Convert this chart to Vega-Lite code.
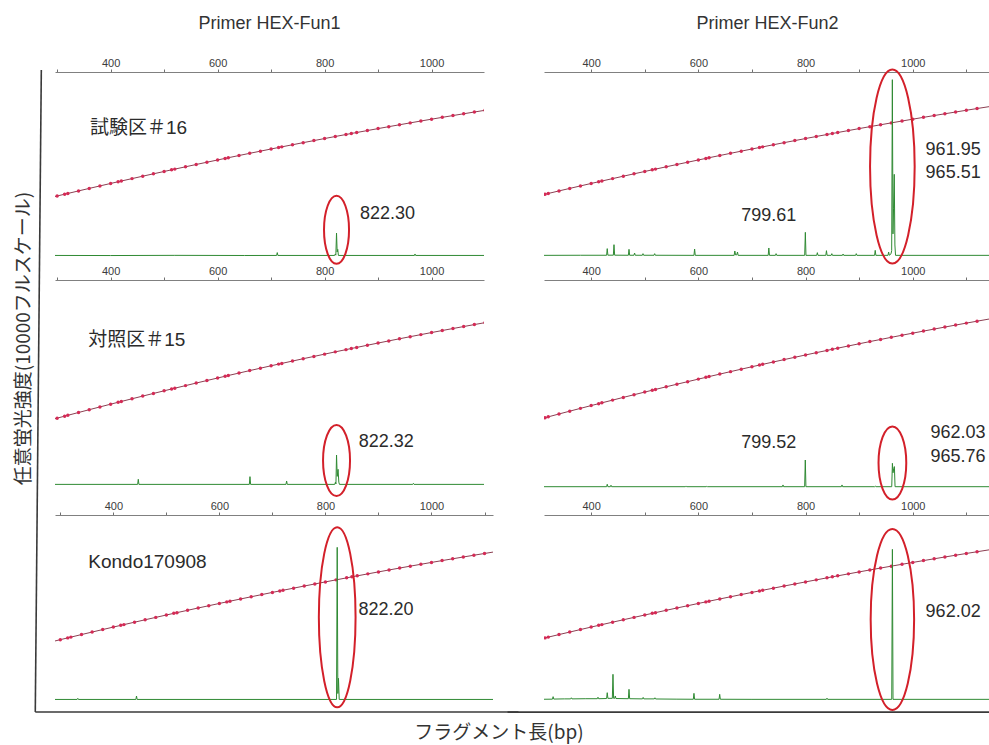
{
  "$schema": "https://vega.github.io/schema/vega-lite/v6.json",
  "background": "white",
  "padding": {"left": 14, "top": 15, "right": 0, "bottom": 1},
  "config": {
    "view": {"stroke": null},
    "font": "Liberation Sans",
    "axis": {"domainColor": "#808080", "domainWidth": 1, "tickColor": "#707070", "tickSize": 3, "labelFontSize": 11, "labelColor": "#3c3c3c", "labelPadding": 1, "grid": false, "labelFont": "Liberation Sans"}
  },
  "datasets": {
    "sizing": [
      {"bp": 280, "rfu": 3121}, {"bp": 300, "rfu": 3261}, {"bp": 314, "rfu": 3358}, {"bp": 320, "rfu": 3399}, {"bp": 340, "rfu": 3537},
      {"bp": 360, "rfu": 3673}, {"bp": 380, "rfu": 3808}, {"bp": 400, "rfu": 3942}, {"bp": 414, "rfu": 4035}, {"bp": 420, "rfu": 4075},
      {"bp": 440, "rfu": 4206}, {"bp": 460, "rfu": 4337}, {"bp": 480, "rfu": 4466}, {"bp": 500, "rfu": 4594}, {"bp": 514, "rfu": 4684},
      {"bp": 520, "rfu": 4722}, {"bp": 540, "rfu": 4848}, {"bp": 560, "rfu": 4973}, {"bp": 580, "rfu": 5096}, {"bp": 600, "rfu": 5219},
      {"bp": 614, "rfu": 5304}, {"bp": 620, "rfu": 5341}, {"bp": 640, "rfu": 5461}, {"bp": 660, "rfu": 5580}, {"bp": 680, "rfu": 5698},
      {"bp": 700, "rfu": 5816}, {"bp": 714, "rfu": 5897}, {"bp": 720, "rfu": 5931}, {"bp": 740, "rfu": 6046}, {"bp": 760, "rfu": 6160},
      {"bp": 780, "rfu": 6272}, {"bp": 800, "rfu": 6384}, {"bp": 820, "rfu": 6494}, {"bp": 840, "rfu": 6603}, {"bp": 850, "rfu": 6658},
      {"bp": 860, "rfu": 6711}, {"bp": 880, "rfu": 6818}, {"bp": 900, "rfu": 6924}, {"bp": 920, "rfu": 7029}, {"bp": 940, "rfu": 7132},
      {"bp": 960, "rfu": 7235}, {"bp": 980, "rfu": 7336}, {"bp": 1000, "rfu": 7436}, {"bp": 1020, "rfu": 7535}, {"bp": 1040, "rfu": 7633},
      {"bp": 1060, "rfu": 7730}, {"bp": 1080, "rfu": 7826}, {"bp": 1100, "rfu": 7920}, {"bp": 1120, "rfu": 8014}, {"bp": 1160, "rfu": 8197}
    ],
    "trace": [
      {"p": "A1", "bp": 296, "rfu": 30}, {"p": "A1", "bp": 400, "rfu": 25}, {"p": "A1", "bp": 520, "rfu": 35}, {"p": "A1", "bp": 650, "rfu": 28},
      {"p": "A1", "bp": 710.3, "rfu": 30}, {"p": "A1", "bp": 711.5, "rfu": 185}, {"p": "A1", "bp": 712.7, "rfu": 30},
      {"p": "A1", "bp": 818.8, "rfu": 30}, {"p": "A1", "bp": 820, "rfu": 110}, {"p": "A1", "bp": 821, "rfu": 45}, {"p": "A1", "bp": 822.3, "rfu": 1250},
      {"p": "A1", "bp": 823.5, "rfu": 220}, {"p": "A1", "bp": 824.6, "rfu": 360}, {"p": "A1", "bp": 825.8, "rfu": 30},
      {"p": "A1", "bp": 968, "rfu": 30}, {"p": "A1", "bp": 969, "rfu": 110}, {"p": "A1", "bp": 970.2, "rfu": 30}, {"p": "A1", "bp": 1098, "rfu": 30},

      {"p": "A2", "bp": 296, "rfu": 30}, {"p": "A2", "bp": 450.5, "rfu": 30}, {"p": "A2", "bp": 451.7, "rfu": 278}, {"p": "A2", "bp": 452.9, "rfu": 30},
      {"p": "A2", "bp": 659.3, "rfu": 30}, {"p": "A2", "bp": 660.5, "rfu": 407}, {"p": "A2", "bp": 661.7, "rfu": 30},
      {"p": "A2", "bp": 727.8, "rfu": 30}, {"p": "A2", "bp": 729, "rfu": 195}, {"p": "A2", "bp": 730.2, "rfu": 30},
      {"p": "A2", "bp": 819, "rfu": 30}, {"p": "A2", "bp": 820.3, "rfu": 140}, {"p": "A2", "bp": 821.2, "rfu": 50}, {"p": "A2", "bp": 822.32, "rfu": 1463},
      {"p": "A2", "bp": 823.6, "rfu": 420}, {"p": "A2", "bp": 825.2, "rfu": 765}, {"p": "A2", "bp": 826.6, "rfu": 140}, {"p": "A2", "bp": 827.8, "rfu": 30},
      {"p": "A2", "bp": 964.8, "rfu": 30}, {"p": "A2", "bp": 966, "rfu": 80}, {"p": "A2", "bp": 967.2, "rfu": 30}, {"p": "A2", "bp": 1098, "rfu": 30},

      {"p": "A3", "bp": 290, "rfu": 30}, {"p": "A3", "bp": 331.8, "rfu": 30}, {"p": "A3", "bp": 333, "rfu": 90}, {"p": "A3", "bp": 334.2, "rfu": 30},
      {"p": "A3", "bp": 442.5, "rfu": 30}, {"p": "A3", "bp": 443.7, "rfu": 216}, {"p": "A3", "bp": 444.9, "rfu": 30},
      {"p": "A3", "bp": 820.9, "rfu": 30}, {"p": "A3", "bp": 822.2, "rfu": 8252}, {"p": "A3", "bp": 823.4, "rfu": 350}, {"p": "A3", "bp": 824.6, "rfu": 1171},
      {"p": "A3", "bp": 826, "rfu": 30}, {"p": "A3", "bp": 1116, "rfu": 30},

      {"p": "B1", "bp": 312, "rfu": 35}, {"p": "B1", "bp": 380, "rfu": 40},
      {"p": "B1", "bp": 428.8, "rfu": 40}, {"p": "B1", "bp": 430, "rfu": 400}, {"p": "B1", "bp": 431.2, "rfu": 45},
      {"p": "B1", "bp": 441.4, "rfu": 45}, {"p": "B1", "bp": 442.6, "rfu": 615}, {"p": "B1", "bp": 443.8, "rfu": 45},
      {"p": "B1", "bp": 469.4, "rfu": 40}, {"p": "B1", "bp": 470.6, "rfu": 362}, {"p": "B1", "bp": 471.8, "rfu": 40},
      {"p": "B1", "bp": 479.8, "rfu": 40}, {"p": "B1", "bp": 481, "rfu": 163}, {"p": "B1", "bp": 482.2, "rfu": 40},
      {"p": "B1", "bp": 495.5, "rfu": 40}, {"p": "B1", "bp": 496.7, "rfu": 127}, {"p": "B1", "bp": 497.9, "rfu": 40},
      {"p": "B1", "bp": 517.3, "rfu": 40}, {"p": "B1", "bp": 518.5, "rfu": 127}, {"p": "B1", "bp": 519.7, "rfu": 40},
      {"p": "B1", "bp": 591.8, "rfu": 35}, {"p": "B1", "bp": 593, "rfu": 380}, {"p": "B1", "bp": 594.2, "rfu": 35},
      {"p": "B1", "bp": 666.8, "rfu": 35}, {"p": "B1", "bp": 668, "rfu": 272}, {"p": "B1", "bp": 669.5, "rfu": 60}, {"p": "B1", "bp": 671.5, "rfu": 60},
      {"p": "B1", "bp": 673, "rfu": 217}, {"p": "B1", "bp": 674.2, "rfu": 35},
      {"p": "B1", "bp": 730.3, "rfu": 35}, {"p": "B1", "bp": 731.5, "rfu": 435}, {"p": "B1", "bp": 732.7, "rfu": 35},
      {"p": "B1", "bp": 743.8, "rfu": 35}, {"p": "B1", "bp": 745, "rfu": 127}, {"p": "B1", "bp": 746.2, "rfu": 35},
      {"p": "B1", "bp": 798.4, "rfu": 35}, {"p": "B1", "bp": 799.61, "rfu": 1286}, {"p": "B1", "bp": 800.8, "rfu": 35},
      {"p": "B1", "bp": 820.8, "rfu": 35}, {"p": "B1", "bp": 822, "rfu": 181}, {"p": "B1", "bp": 823.2, "rfu": 35},
      {"p": "B1", "bp": 837.8, "rfu": 35}, {"p": "B1", "bp": 839, "rfu": 290}, {"p": "B1", "bp": 840.2, "rfu": 35},
      {"p": "B1", "bp": 847.8, "rfu": 35}, {"p": "B1", "bp": 849, "rfu": 127}, {"p": "B1", "bp": 850.2, "rfu": 35},
      {"p": "B1", "bp": 868.8, "rfu": 35}, {"p": "B1", "bp": 870, "rfu": 109}, {"p": "B1", "bp": 871.2, "rfu": 35},
      {"p": "B1", "bp": 893.4, "rfu": 35}, {"p": "B1", "bp": 894.6, "rfu": 127}, {"p": "B1", "bp": 895.8, "rfu": 35},
      {"p": "B1", "bp": 928.8, "rfu": 35}, {"p": "B1", "bp": 930, "rfu": 308}, {"p": "B1", "bp": 931.2, "rfu": 35},
      {"p": "B1", "bp": 953.8, "rfu": 35}, {"p": "B1", "bp": 955, "rfu": 217}, {"p": "B1", "bp": 956.2, "rfu": 40},
      {"p": "B1", "bp": 959.5, "rfu": 120}, {"p": "B1", "bp": 960.7, "rfu": 300}, {"p": "B1", "bp": 961.95, "rfu": 9583},
      {"p": "B1", "bp": 963.1, "rfu": 1200}, {"p": "B1", "bp": 964.2, "rfu": 2600}, {"p": "B1", "bp": 965.51, "rfu": 4438},
      {"p": "B1", "bp": 966.7, "rfu": 600}, {"p": "B1", "bp": 967.9, "rfu": 35}, {"p": "B1", "bp": 1146, "rfu": 35},

      {"p": "B2", "bp": 312, "rfu": 30},
      {"p": "B2", "bp": 428.8, "rfu": 30}, {"p": "B2", "bp": 430, "rfu": 146}, {"p": "B2", "bp": 431.2, "rfu": 30},
      {"p": "B2", "bp": 435.8, "rfu": 30}, {"p": "B2", "bp": 437, "rfu": 100}, {"p": "B2", "bp": 438.2, "rfu": 30},
      {"p": "B2", "bp": 575.8, "rfu": 30}, {"p": "B2", "bp": 577, "rfu": 65}, {"p": "B2", "bp": 578.2, "rfu": 30},
      {"p": "B2", "bp": 614.8, "rfu": 30}, {"p": "B2", "bp": 616, "rfu": 60}, {"p": "B2", "bp": 617.2, "rfu": 30},
      {"p": "B2", "bp": 756.7, "rfu": 30}, {"p": "B2", "bp": 757.9, "rfu": 114}, {"p": "B2", "bp": 759.1, "rfu": 30},
      {"p": "B2", "bp": 798.3, "rfu": 30}, {"p": "B2", "bp": 799.52, "rfu": 1317}, {"p": "B2", "bp": 800.7, "rfu": 30},
      {"p": "B2", "bp": 866.8, "rfu": 30}, {"p": "B2", "bp": 868, "rfu": 114}, {"p": "B2", "bp": 869.2, "rfu": 30},
      {"p": "B2", "bp": 928.8, "rfu": 30}, {"p": "B2", "bp": 930, "rfu": 60}, {"p": "B2", "bp": 931.2, "rfu": 30},
      {"p": "B2", "bp": 960.8, "rfu": 30}, {"p": "B2", "bp": 962.03, "rfu": 1158}, {"p": "B2", "bp": 963.2, "rfu": 700},
      {"p": "B2", "bp": 964.5, "rfu": 900}, {"p": "B2", "bp": 965.76, "rfu": 999}, {"p": "B2", "bp": 967, "rfu": 30}, {"p": "B2", "bp": 1146, "rfu": 30},

      {"p": "B3", "bp": 312, "rfu": 40}, {"p": "B3", "bp": 327.8, "rfu": 45}, {"p": "B3", "bp": 329, "rfu": 180}, {"p": "B3", "bp": 330.2, "rfu": 50},
      {"p": "B3", "bp": 350, "rfu": 60}, {"p": "B3", "bp": 361.8, "rfu": 60}, {"p": "B3", "bp": 363, "rfu": 120}, {"p": "B3", "bp": 364.2, "rfu": 60},
      {"p": "B3", "bp": 390, "rfu": 70}, {"p": "B3", "bp": 411.5, "rfu": 70}, {"p": "B3", "bp": 412.7, "rfu": 150}, {"p": "B3", "bp": 413.9, "rfu": 70},
      {"p": "B3", "bp": 428.8, "rfu": 80}, {"p": "B3", "bp": 430, "rfu": 395}, {"p": "B3", "bp": 431.2, "rfu": 90},
      {"p": "B3", "bp": 439.5, "rfu": 90}, {"p": "B3", "bp": 440.7, "rfu": 1389}, {"p": "B3", "bp": 441.9, "rfu": 90},
      {"p": "B3", "bp": 443.8, "rfu": 90}, {"p": "B3", "bp": 445, "rfu": 217}, {"p": "B3", "bp": 446.2, "rfu": 80},
      {"p": "B3", "bp": 469.4, "rfu": 70}, {"p": "B3", "bp": 470.6, "rfu": 577}, {"p": "B3", "bp": 471.8, "rfu": 70},
      {"p": "B3", "bp": 495.8, "rfu": 60}, {"p": "B3", "bp": 497, "rfu": 140}, {"p": "B3", "bp": 498.2, "rfu": 60},
      {"p": "B3", "bp": 517.8, "rfu": 60}, {"p": "B3", "bp": 519, "rfu": 120}, {"p": "B3", "bp": 520.2, "rfu": 55},
      {"p": "B3", "bp": 560, "rfu": 45}, {"p": "B3", "bp": 590.6, "rfu": 40}, {"p": "B3", "bp": 591.8, "rfu": 360}, {"p": "B3", "bp": 593, "rfu": 40},
      {"p": "B3", "bp": 638.6, "rfu": 40}, {"p": "B3", "bp": 639.8, "rfu": 306}, {"p": "B3", "bp": 641, "rfu": 40},
      {"p": "B3", "bp": 700, "rfu": 35}, {"p": "B3", "bp": 838.8, "rfu": 35}, {"p": "B3", "bp": 840, "rfu": 100}, {"p": "B3", "bp": 841.2, "rfu": 35},
      {"p": "B3", "bp": 960.8, "rfu": 35}, {"p": "B3", "bp": 962.02, "rfu": 8143}, {"p": "B3", "bp": 963.2, "rfu": 35}, {"p": "B3", "bp": 1146, "rfu": 35}
    ],
    "rings": [
      {"p": "A1", "bp": 822.3, "rfu": 1424},
      {"p": "A2", "bp": 822.32, "rfu": 1195},
      {"p": "A3", "bp": 822.2, "rfu": 4470},
      {"p": "B1", "bp": 961.95, "rfu": 4859},
      {"p": "B2", "bp": 962.03, "rfu": 1172},
      {"p": "B3", "bp": 962.02, "rfu": 4346}
    ],
    "notes": [
      {"p": "A1", "bp": 361.4, "rfu": 6978, "label": "試験区＃16"},
      {"p": "A1", "bp": 866, "rfu": 2304, "label": "822.30"},
      {"p": "A2", "bp": 358, "rfu": 7073, "label": "対照区＃15"},
      {"p": "A2", "bp": 864, "rfu": 2112, "label": "822.32"},
      {"p": "A3", "bp": 352.8, "rfu": 7475, "label": "Kondo170908"},
      {"p": "A3", "bp": 862.3, "rfu": 4865, "label": "822.20"},
      {"p": "B1", "bp": 1024, "rfu": 5783, "label": "961.95"},
      {"p": "B1", "bp": 1024, "rfu": 4511, "label": "965.51"},
      {"p": "B1", "bp": 680, "rfu": 2174, "label": "799.61"},
      {"p": "B2", "bp": 680, "rfu": 2151, "label": "799.52"},
      {"p": "B2", "bp": 1033, "rfu": 2605, "label": "962.03"},
      {"p": "B2", "bp": 1033, "rfu": 1476, "label": "965.76"},
      {"p": "B3", "bp": 1024, "rfu": 4778, "label": "962.02"}
    ],
    "frame": [
      {"p": "A3", "bp": 264.2, "rfu": 34050, "bp2": 252.8, "rfu2": -650},
      {"p": "A3", "bp": 252.8, "rfu": -650, "bp2": 1164, "rfu2": -650},
      {"p": "B3", "bp": 244, "rfu": -650, "bp2": 1146, "rfu2": -650}
    ]
  },
  "title": {"text": "フラグメント長(bp)", "orient": "bottom", "anchor": "middle", "frame": "bounds", "font": "Noto Sans CJK JP", "fontSize": 19, "fontWeight": "normal", "color": "#333333", "offset": 10, "dx": -5},
  "bounds": "flush",
  "align": "each",
  "columns": 2,
  "spacing": {"row": 24, "column": 51},
  "concat": [
    {
      "title": {"text": "Primer HEX-Fun1", "anchor": "middle", "frame": "group", "font": "Liberation Sans", "fontSize": 18, "fontWeight": "normal", "color": "#333333", "offset": 24},
      "width": 429, "height": 184,
      "encoding": {
        "x": {"field": "bp", "type": "quantitative", "scale": {"domain": [296, 1098], "nice": false, "zero": false}, "axis": {"orient": "top", "values": [300, 400, 500, 600, 700, 800, 900, 1000], "format": "d", "labelExpr": "datum.value % 200 === 0 && datum.value >= 400 ? datum.label : ''", "title": null, "labelOverlap": false, "labelFlush": false}},
        "y": {"field": "rfu", "type": "quantitative", "scale": {"domain": [0, 10000], "nice": false, "zero": false}, "axis": null}
      },
      "layer": [
        {"data": {"name": "sizing"}, "mark": {"type": "line", "color": "#8c3f52", "strokeWidth": 1, "clip": true}},
        {"data": {"name": "sizing"}, "mark": {"type": "point", "filled": true, "color": "#d42a55", "size": 12, "opacity": 1, "clip": true}},
        {"data": {"name": "trace"}, "transform": [{"filter": "datum.p === 'A1'"}], "mark": {"type": "line", "color": "#2f8a33", "strokeWidth": 1}},
        {"data": {"name": "rings"}, "transform": [{"filter": "datum.p === 'A1'"}], "mark": {"type": "point", "shape": "M 0 -1 A 0.368 1 0 1 1 0 1 A 0.368 1 0 1 1 0 -1 Z", "size": 4624, "filled": false, "stroke": "#d3202a", "strokeWidth": 2, "opacity": 1}},
        {"data": {"name": "notes"}, "transform": [{"filter": "datum.p === 'A1' && datum.bp < 500"}], "mark": {"type": "text", "align": "left", "baseline": "middle", "fontSize": 19, "font": "Liberation Sans, Noto Sans CJK JP", "color": "#2b2b2b"}, "encoding": {"text": {"field": "label"}}},
        {"data": {"name": "notes"}, "transform": [{"filter": "datum.p === 'A1' && datum.bp >= 500"}], "mark": {"type": "text", "align": "left", "baseline": "middle", "fontSize": 18, "font": "Liberation Sans", "color": "#2b2b2b"}, "encoding": {"text": {"field": "label"}}}
      ]
    },
    {
      "title": {"text": "Primer HEX-Fun2", "anchor": "middle", "frame": "group", "font": "Liberation Sans", "fontSize": 18, "fontWeight": "normal", "color": "#333333", "offset": 24},
      "width": 447, "height": 184,
      "encoding": {
        "x": {"field": "bp", "type": "quantitative", "scale": {"domain": [312, 1146], "nice": false, "zero": false}, "axis": {"orient": "top", "values": [400, 500, 600, 700, 800, 900, 1000, 1100], "format": "d", "labelExpr": "datum.value % 200 === 0 && datum.value >= 400 ? datum.label : ''", "title": null, "labelOverlap": false, "labelFlush": false}},
        "y": {"field": "rfu", "type": "quantitative", "scale": {"domain": [0, 10000], "nice": false, "zero": false}, "axis": null}
      },
      "layer": [
        {"data": {"name": "sizing"}, "mark": {"type": "line", "color": "#8c3f52", "strokeWidth": 1, "clip": true}},
        {"data": {"name": "sizing"}, "mark": {"type": "point", "filled": true, "color": "#d42a55", "size": 12, "opacity": 1, "clip": true}},
        {"data": {"name": "trace"}, "transform": [{"filter": "datum.p === 'B1'"}], "mark": {"type": "line", "color": "#2f8a33", "strokeWidth": 1}},
        {"data": {"name": "rings"}, "transform": [{"filter": "datum.p === 'B1'"}], "mark": {"type": "point", "shape": "M 0 -1 A 0.23 1 0 1 1 0 1 A 0.23 1 0 1 1 0 -1 Z", "size": 37636, "filled": false, "stroke": "#d3202a", "strokeWidth": 2, "opacity": 1}},
        {"data": {"name": "notes"}, "transform": [{"filter": "datum.p === 'B1'"}], "mark": {"type": "text", "align": "left", "baseline": "middle", "fontSize": 18, "font": "Liberation Sans", "color": "#2b2b2b", "clip": true}, "encoding": {"text": {"field": "label"}}}
      ]
    },
    {
      "title": {"text": "任意蛍光強度(10000フルスケール)", "orient": "left", "anchor": "middle", "frame": "group", "font": "Noto Sans CJK JP", "fontSize": 19, "fontWeight": "normal", "color": "#333333", "offset": 19, "dx": 47},
      "width": 429, "height": 211,
      "encoding": {
        "x": {"field": "bp", "type": "quantitative", "scale": {"domain": [296, 1098], "nice": false, "zero": false}, "axis": {"orient": "top", "values": [300, 400, 500, 600, 700, 800, 900, 1000], "format": "d", "labelExpr": "datum.value % 200 === 0 && datum.value >= 400 ? datum.label : ''", "title": null, "labelOverlap": false, "labelFlush": false}},
        "y": {"field": "rfu", "type": "quantitative", "scale": {"domain": [-293, 10000], "nice": false, "zero": false}, "axis": null}
      },
      "layer": [
        {"data": {"name": "sizing"}, "mark": {"type": "line", "color": "#8c3f52", "strokeWidth": 1, "clip": true}},
        {"data": {"name": "sizing"}, "mark": {"type": "point", "filled": true, "color": "#d42a55", "size": 12, "opacity": 1, "clip": true}},
        {"data": {"name": "trace"}, "transform": [{"filter": "datum.p === 'A2'"}], "mark": {"type": "line", "color": "#2f8a33", "strokeWidth": 1}},
        {"data": {"name": "rings"}, "transform": [{"filter": "datum.p === 'A2'"}], "mark": {"type": "point", "shape": "M 0 -1 A 0.38 1 0 1 1 0 1 A 0.38 1 0 1 1 0 -1 Z", "size": 5041, "filled": false, "stroke": "#d3202a", "strokeWidth": 2, "opacity": 1}},
        {"data": {"name": "notes"}, "transform": [{"filter": "datum.p === 'A2' && datum.bp < 500"}], "mark": {"type": "text", "align": "left", "baseline": "middle", "fontSize": 19, "font": "Liberation Sans, Noto Sans CJK JP", "color": "#2b2b2b"}, "encoding": {"text": {"field": "label"}}},
        {"data": {"name": "notes"}, "transform": [{"filter": "datum.p === 'A2' && datum.bp >= 500"}], "mark": {"type": "text", "align": "left", "baseline": "middle", "fontSize": 18, "font": "Liberation Sans", "color": "#2b2b2b"}, "encoding": {"text": {"field": "label"}}}
      ]
    },
    {
      "width": 447, "height": 211,
      "encoding": {
        "x": {"field": "bp", "type": "quantitative", "scale": {"domain": [312, 1146], "nice": false, "zero": false}, "axis": {"orient": "top", "values": [400, 500, 600, 700, 800, 900, 1000, 1100], "format": "d", "labelExpr": "datum.value % 200 === 0 && datum.value >= 400 ? datum.label : ''", "title": null, "labelOverlap": false, "labelFlush": false}},
        "y": {"field": "rfu", "type": "quantitative", "scale": {"domain": [-178, 10000], "nice": false, "zero": false}, "axis": null}
      },
      "layer": [
        {"data": {"name": "sizing"}, "mark": {"type": "line", "color": "#8c3f52", "strokeWidth": 1, "clip": true}},
        {"data": {"name": "sizing"}, "mark": {"type": "point", "filled": true, "color": "#d42a55", "size": 12, "opacity": 1, "clip": true}},
        {"data": {"name": "trace"}, "transform": [{"filter": "datum.p === 'B2'"}], "mark": {"type": "line", "color": "#2f8a33", "strokeWidth": 1}},
        {"data": {"name": "rings"}, "transform": [{"filter": "datum.p === 'B2'"}], "mark": {"type": "point", "shape": "M 0 -1 A 0.38 1 0 1 1 0 1 A 0.38 1 0 1 1 0 -1 Z", "size": 5329, "filled": false, "stroke": "#d3202a", "strokeWidth": 2, "opacity": 1}},
        {"data": {"name": "notes"}, "transform": [{"filter": "datum.p === 'B2'"}], "mark": {"type": "text", "align": "left", "baseline": "middle", "fontSize": 18, "font": "Liberation Sans", "color": "#2b2b2b", "clip": true}, "encoding": {"text": {"field": "label"}}}
      ]
    },
    {
      "width": 438, "height": 185,
      "encoding": {
        "x": {"field": "bp", "type": "quantitative", "scale": {"domain": [290, 1116], "nice": false, "zero": false}, "axis": {"orient": "top", "values": [300, 400, 500, 600, 700, 800, 900, 1000, 1100], "format": "d", "labelExpr": "datum.value % 200 === 0 && datum.value >= 400 ? datum.label : ''", "title": null, "labelOverlap": false, "labelFlush": false}},
        "y": {"field": "rfu", "type": "quantitative", "scale": {"domain": [0, 10000], "nice": false, "zero": false}, "axis": null}
      },
      "layer": [
        {"data": {"name": "frame"}, "transform": [{"filter": "datum.p === 'A3'"}], "mark": {"type": "rule", "color": "#3a3a3a", "strokeWidth": 1.6}, "encoding": {"x2": {"field": "bp2"}, "y2": {"field": "rfu2"}}},
        {"data": {"name": "sizing"}, "mark": {"type": "line", "color": "#8c3f52", "strokeWidth": 1, "clip": true}},
        {"data": {"name": "sizing"}, "mark": {"type": "point", "filled": true, "color": "#d42a55", "size": 12, "opacity": 1, "clip": true}},
        {"data": {"name": "trace"}, "transform": [{"filter": "datum.p === 'A3'"}], "mark": {"type": "line", "color": "#2f8a33", "strokeWidth": 1}},
        {"data": {"name": "rings"}, "transform": [{"filter": "datum.p === 'A3'"}], "mark": {"type": "point", "shape": "M 0 -1 A 0.204 1 0 1 1 0 1 A 0.204 1 0 1 1 0 -1 Z", "size": 32400, "filled": false, "stroke": "#d3202a", "strokeWidth": 2, "opacity": 1}},
        {"data": {"name": "notes"}, "transform": [{"filter": "datum.p === 'A3' && datum.bp < 500"}], "mark": {"type": "text", "align": "left", "baseline": "middle", "fontSize": 19, "font": "Liberation Sans", "color": "#2b2b2b"}, "encoding": {"text": {"field": "label"}}},
        {"data": {"name": "notes"}, "transform": [{"filter": "datum.p === 'A3' && datum.bp >= 500"}], "mark": {"type": "text", "align": "left", "baseline": "middle", "fontSize": 18, "font": "Liberation Sans", "color": "#2b2b2b"}, "encoding": {"text": {"field": "label"}}}
      ]
    },
    {
      "width": 447, "height": 185,
      "encoding": {
        "x": {"field": "bp", "type": "quantitative", "scale": {"domain": [312, 1146], "nice": false, "zero": false}, "axis": {"orient": "top", "values": [400, 500, 600, 700, 800, 900, 1000, 1100], "format": "d", "labelExpr": "datum.value % 200 === 0 && datum.value >= 400 ? datum.label : ''", "title": null, "labelOverlap": false, "labelFlush": false}},
        "y": {"field": "rfu", "type": "quantitative", "scale": {"domain": [0, 10000], "nice": false, "zero": false}, "axis": null}
      },
      "layer": [
        {"data": {"name": "frame"}, "transform": [{"filter": "datum.p === 'B3'"}], "mark": {"type": "rule", "color": "#3a3a3a", "strokeWidth": 1.8}, "encoding": {"x2": {"field": "bp2"}, "y2": {"field": "rfu2"}}},
        {"data": {"name": "sizing"}, "mark": {"type": "line", "color": "#8c3f52", "strokeWidth": 1, "clip": true}},
        {"data": {"name": "sizing"}, "mark": {"type": "point", "filled": true, "color": "#d42a55", "size": 12, "opacity": 1, "clip": true}},
        {"data": {"name": "trace"}, "transform": [{"filter": "datum.p === 'B3'"}], "mark": {"type": "line", "color": "#2f8a33", "strokeWidth": 1}},
        {"data": {"name": "rings"}, "transform": [{"filter": "datum.p === 'B3'"}], "mark": {"type": "point", "shape": "M 0 -1 A 0.24 1 0 1 1 0 1 A 0.24 1 0 1 1 0 -1 Z", "size": 32761, "filled": false, "stroke": "#d3202a", "strokeWidth": 2, "opacity": 1}},
        {"data": {"name": "notes"}, "transform": [{"filter": "datum.p === 'B3'"}], "mark": {"type": "text", "align": "left", "baseline": "middle", "fontSize": 18, "font": "Liberation Sans", "color": "#2b2b2b", "clip": true}, "encoding": {"text": {"field": "label"}}}
      ]
    }
  ]
}
